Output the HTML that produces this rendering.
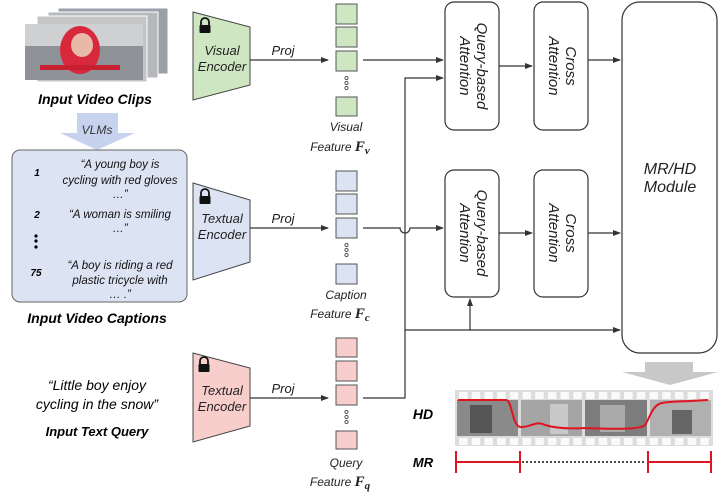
<!DOCTYPE html>
<html><head><meta charset="utf-8"><style>
html,body{margin:0;padding:0;background:#fff;}
svg{display:block;font-family:"Liberation Sans",sans-serif;}
.it{font-style:italic;}
.b{font-weight:bold;font-style:italic;}
</style></head><body>
<svg width="720" height="499" viewBox="0 0 720 499" xmlns="http://www.w3.org/2000/svg">
<defs>
<marker id="ar" markerWidth="8" markerHeight="6" refX="7" refY="3" orient="auto" markerUnits="userSpaceOnUse"><path d="M0,0 L8,3 L0,6 z" fill="#333"/></marker>
<pattern id="perf" x="457" y="0" width="12.7" height="10" patternUnits="userSpaceOnUse"><rect x="2" y="0" width="8.5" height="10" fill="#fafafa"/></pattern>
</defs>
<!-- video clips -->
<rect x="58" y="8" width="110" height="66" fill="#9a9fa8" stroke="#fff"/>
<rect x="48" y="12" width="110" height="66" fill="#b6b8bb" stroke="#fff"/>
<rect x="37" y="16" width="110" height="66" fill="#c5c5c5" stroke="#fff"/>
<rect x="25" y="24" width="118" height="56" fill="#8f9296"/>
<rect x="25" y="24" width="118" height="22" fill="#cfd0d2"/>
<ellipse cx="80" cy="50" rx="20" ry="24" fill="#d8283c"/>
<ellipse cx="82" cy="45" rx="11" ry="12" fill="#e8b9a6"/>
<rect x="40" y="65" width="80" height="5" fill="#c82030"/>
<text x="95" y="104" font-size="14" class="b" text-anchor="middle">Input Video Clips</text>
<!-- VLMs arrow -->
<path d="M77,113 H118 V133 H135 L97,150 L60,133 H77 Z" fill="#c7d3ee"/>
<text x="97" y="134" font-size="12" class="it" text-anchor="middle" fill="#333">VLMs</text>
<!-- caption box -->
<rect x="12" y="150" width="175" height="152" rx="8" fill="#dce3f3" stroke="#666" stroke-width="1"/>
<g font-size="11.5" class="it" text-anchor="middle" fill="#111">
<text x="120" y="168">“A young boy is</text>
<text x="120" y="184">cycling with red gloves</text>
<text x="120" y="198">…”</text>
<text x="120" y="218">“A woman is smiling</text>
<text x="120" y="232">…”</text>
<text x="120" y="269">“A boy is riding a red</text>
<text x="120" y="284">plastic tricycle with</text>
<text x="120" y="298">… .”</text>
</g>
<g font-size="10" class="b" text-anchor="middle">
<text x="37" y="176">1</text><text x="37" y="218">2</text><text x="36" y="276">75</text>
</g>
<circle cx="36" cy="236" r="1.6"/><circle cx="36" cy="241" r="1.6"/><circle cx="36" cy="247" r="1.6"/>
<text x="97" y="323" font-size="14" class="b" text-anchor="middle">Input Video Captions</text>
<!-- query text -->
<text x="97" y="390" font-size="14" class="it" text-anchor="middle">“Little boy enjoy</text>
<text x="97" y="409" font-size="14" class="it" text-anchor="middle">cycling in the snow”</text>
<text x="97" y="436" font-size="13" class="b" text-anchor="middle">Input Text Query</text>
<!-- encoders -->
<g stroke="#444" stroke-width="1">
<path d="M193,12 L250,27 L250,85 L193,100 Z" fill="#cfe6c2"/>
<path d="M193,183 L250,200 L250,262 L193,280 Z" fill="#dce3f3"/>
<path d="M193,353 L250,368 L250,426 L193,442 Z" fill="#f8cecc"/>
</g>
<g fill="#111">
<path d="M201,25 v-3 a4,4 0 0 1 8,0 v3" fill="none" stroke="#111" stroke-width="1.8"/><rect x="199.5" y="25" width="11" height="8" rx="1"/>
<path d="M201,196 v-3 a4,4 0 0 1 8,0 v3" fill="none" stroke="#111" stroke-width="1.8"/><rect x="199.5" y="196" width="11" height="8" rx="1"/>
<path d="M200,364 v-3 a4,4 0 0 1 8,0 v3" fill="none" stroke="#111" stroke-width="1.8"/><rect x="198.5" y="364" width="11" height="8" rx="1"/>
</g>
<g font-size="13" class="it" text-anchor="middle" fill="#222">
<text x="222" y="55">Visual</text><text x="222" y="71">Encoder</text>
<text x="222" y="223">Textual</text><text x="222" y="239">Encoder</text>
<text x="222" y="395">Textual</text><text x="222" y="411">Encoder</text>
<text x="283" y="55">Proj</text><text x="283" y="223">Proj</text><text x="283" y="393">Proj</text>
</g>
<g stroke="#333" stroke-width="1.2" fill="none">
<line x1="250" y1="60" x2="328" y2="60" marker-end="url(#ar)"/>
<line x1="250" y1="228" x2="328" y2="228" marker-end="url(#ar)"/>
<line x1="250" y1="398" x2="328" y2="398" marker-end="url(#ar)"/>
</g>
<!-- feature squares -->
<g stroke="#555" stroke-width="1">
<g fill="#cfe6c2"><rect x="336" y="4" width="21" height="20"/><rect x="336" y="27" width="21" height="20"/><rect x="336" y="51" width="21" height="20"/><rect x="336" y="97" width="21" height="19"/></g>
<g fill="#dce3f3"><rect x="336" y="171" width="21" height="20"/><rect x="336" y="194" width="21" height="20"/><rect x="336" y="218" width="21" height="20"/><rect x="336" y="264" width="21" height="20"/></g>
<g fill="#f8cecc"><rect x="336" y="338" width="21" height="19"/><rect x="336" y="361" width="21" height="20"/><rect x="336" y="385" width="21" height="20"/><rect x="336" y="431" width="21" height="18"/></g>
<g fill="none"><circle cx="346.5" cy="78" r="1.6"/><circle cx="346.5" cy="83" r="1.6"/><circle cx="346.5" cy="88" r="1.6"/>
<circle cx="346.5" cy="245" r="1.6"/><circle cx="346.5" cy="250" r="1.6"/><circle cx="346.5" cy="255" r="1.6"/>
<circle cx="346.5" cy="412" r="1.6"/><circle cx="346.5" cy="417" r="1.6"/><circle cx="346.5" cy="422" r="1.6"/></g>
</g>
<g font-size="12" class="it" text-anchor="middle" fill="#222">
<text x="346" y="131">Visual</text><text x="340" y="151">Feature <tspan font-family="Liberation Serif" font-weight="bold" font-size="15">F</tspan><tspan font-family="Liberation Serif" font-weight="bold" font-size="11" dy="3">v</tspan></text>
<text x="346" y="299">Caption</text><text x="340" y="318">Feature <tspan font-family="Liberation Serif" font-weight="bold" font-size="15">F</tspan><tspan font-family="Liberation Serif" font-weight="bold" font-size="11" dy="3">c</tspan></text>
<text x="346" y="467">Query</text><text x="340" y="486">Feature <tspan font-family="Liberation Serif" font-weight="bold" font-size="15">F</tspan><tspan font-family="Liberation Serif" font-weight="bold" font-size="11" dy="3">q</tspan></text>
</g>
<!-- connectors -->
<g stroke="#333" stroke-width="1.2" fill="none">
<line x1="363" y1="60" x2="443" y2="60" marker-end="url(#ar)"/>
<path d="M363,228 H400 A5,5 0 0 0 410,228 H443" marker-end="url(#ar)"/>
<path d="M363,398 H405 V78 H443" marker-end="url(#ar)"/>
<line x1="405" y1="330" x2="620" y2="330" marker-end="url(#ar)"/>
<line x1="470" y1="330" x2="470" y2="299" marker-end="url(#ar)"/>
<line x1="499" y1="66" x2="532" y2="66" marker-end="url(#ar)"/>
<line x1="499" y1="233" x2="532" y2="233" marker-end="url(#ar)"/>
<line x1="588" y1="60" x2="620" y2="60" marker-end="url(#ar)"/>
<line x1="588" y1="233" x2="620" y2="233" marker-end="url(#ar)"/>
</g>
<!-- attention boxes -->
<g stroke="#333" stroke-width="1.2" fill="#fff">
<rect x="445" y="2" width="54" height="128" rx="9"/>
<rect x="445" y="170" width="54" height="127" rx="9"/>
<rect x="534" y="2" width="54" height="128" rx="9"/>
<rect x="534" y="170" width="54" height="127" rx="9"/>
<rect x="622" y="2" width="95" height="351" rx="18"/>
</g>
<g font-size="15" class="it" text-anchor="middle" fill="#222">
<text transform="translate(477,66) rotate(90)">Query-based</text>
<text transform="translate(460,66) rotate(90)">Attention</text>
<text transform="translate(566,66) rotate(90)">Cross</text>
<text transform="translate(549,66) rotate(90)">Attention</text>
<text transform="translate(477,233) rotate(90)">Query-based</text>
<text transform="translate(460,233) rotate(90)">Attention</text>
<text transform="translate(566,233) rotate(90)">Cross</text>
<text transform="translate(549,233) rotate(90)">Attention</text>
<text x="670" y="174" font-size="16">MR/HD</text>
<text x="670" y="192" font-size="16">Module</text>
</g>
<!-- gray arrow -->
<path d="M645,362 H693 V372 H718 L670,385 L622,372 H645 Z" fill="#c8c8c8"/>
<!-- filmstrip -->
<g>
<rect x="455" y="390" width="258" height="56" fill="#dcdcdc"/>
<rect x="457" y="392" width="254" height="7" fill="url(#perf)"/>
<rect x="457" y="438" width="254" height="7" fill="url(#perf)"/>
<rect x="457" y="400" width="61" height="36" fill="#8a8a8a"/>
<rect x="521" y="400" width="61" height="36" fill="#a5a5a5"/>
<rect x="585" y="400" width="62" height="36" fill="#7d7d7d"/>
<rect x="650" y="400" width="61" height="36" fill="#b0b0b0"/>
<rect x="470" y="405" width="22" height="28" fill="#555"/>
<rect x="550" y="404" width="18" height="30" fill="#c8c8c8"/>
<rect x="600" y="405" width="25" height="27" fill="#aaa"/>
<rect x="672" y="410" width="20" height="24" fill="#666"/>
<path d="M458,400 H506 C512,400 512,425 520,427 C530,428 536,420 545,425 C555,428 570,429 585,428 C610,429 640,430 645,425 C650,418 652,405 662,403 C672,401 680,402 708,400" fill="none" stroke="#e0141e" stroke-width="2"/>
</g>
<text x="423" y="419" font-size="14" font-weight="bold" font-style="italic" text-anchor="middle">HD</text>
<text x="423" y="467" font-size="13" font-weight="bold" font-style="italic" text-anchor="middle">MR</text>
<g stroke="#e0141e" stroke-width="2">
<line x1="456" y1="462" x2="520" y2="462"/><line x1="456" y1="451" x2="456" y2="473"/><line x1="520" y1="451" x2="520" y2="473"/>
<line x1="648" y1="462" x2="711" y2="462"/><line x1="648" y1="451" x2="648" y2="473"/><line x1="711" y1="451" x2="711" y2="473"/>
</g>
<line x1="522" y1="462" x2="646" y2="462" stroke="#111" stroke-width="1.5" stroke-dasharray="2,2"/>
</svg>
</body></html>
